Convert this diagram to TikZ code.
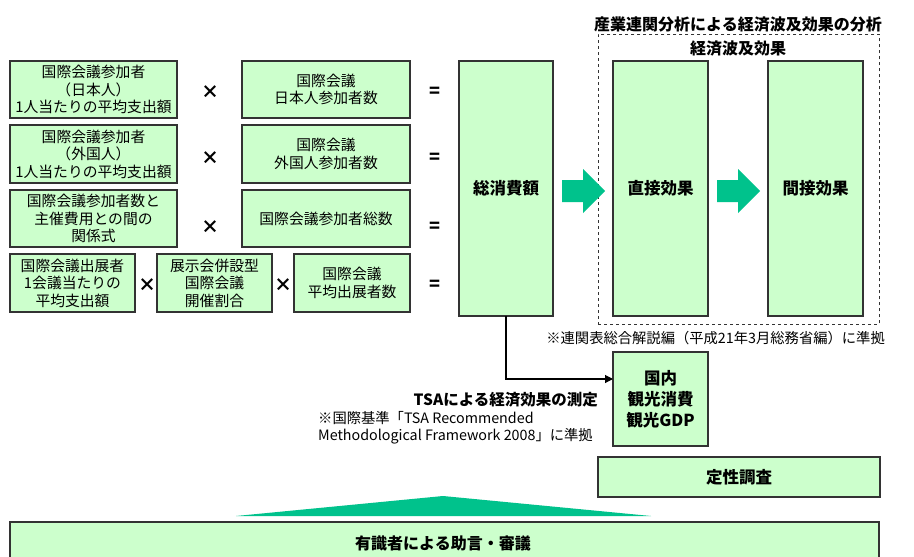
\documentclass[tikz,border=0pt]{standalone}
\usepackage{fontspec}
\setmainfont{Noto Sans CJK JP}
\setsansfont{Noto Sans CJK JP}
\usetikzlibrary{arrows.meta}
\definecolor{boxgreen}{HTML}{CCFFCC}
\definecolor{arrowgreen}{HTML}{00C28C}
\definecolor{edge}{HTML}{333333}
\begin{document}
\begin{tikzpicture}[x=1pt,y=-1pt,
  box/.style={draw=edge, fill=boxgreen, line width=1.1pt, inner sep=0pt, outer sep=0pt,
    align=center, anchor=north west, font=\fontsize{14.8}{17.5}\selectfont},
  bbox/.style={box, font=\fontsize{16.5}{20}\selectfont\bfseries},
  op/.style={font=\fontsize{18}{18}\selectfont\bfseries, inner sep=0pt},
  note/.style={font=\fontsize{14.3}{17.5}\selectfont, inner sep=0pt},
  ttl/.style={font=\fontsize{16}{18}\selectfont\bfseries, inner sep=0pt},
  blockarrow/.style={fill=arrowgreen, draw=none}]
\useasboundingbox (0,0) rectangle (914,557);
\fill[white] (0,0) rectangle (914,557);

% row 1
\node[box, minimum width=167pt, minimum height=57pt] (r1l) at (10,61) {国際会議参加者\\（日本人）\\1人当たりの平均支出額};
\node[box, minimum width=168pt, minimum height=57pt] (r1r) at (242,61) {国際会議\\日本人参加者数};
\node[op] (x1) at (210,92) {×};
\node[op] (e1) at (435,92) {=};
% row 2
\node[box, minimum width=167pt, minimum height=58pt] (r2l) at (10,125) {国際会議参加者\\（外国人）\\1人当たりの平均支出額};
\node[box, minimum width=168pt, minimum height=58pt] (r2r) at (242,125) {国際会議\\外国人参加者数};
\node[op] (x2) at (210,158) {×};
\node[op] (e2) at (435,158) {=};
% row 3
\node[box, minimum width=167pt, minimum height=57pt] (r3l) at (10,190) {国際会議参加者数と\\主催費用との間の\\関係式};
\node[box, minimum width=168pt, minimum height=57pt] (r3r) at (242,190) {国際会議参加者総数};
\node[op] (x3) at (210,227) {×};
\node[op] (e3) at (435,227) {=};
% row 4
\node[box, minimum width=125pt, minimum height=58pt] (r4a) at (10,254) {国際会議出展者\\1会議当たりの\\平均支出額};
\node[box, minimum width=115pt, minimum height=58pt] (r4b) at (157,254) {展示会併設型\\国際会議\\開催割合};
\node[box, minimum width=116pt, minimum height=58pt] (r4c) at (294,254) {国際会議\\平均出展者数};
\node[op] (x4a) at (147,285) {×};
\node[op] (x4b) at (283,285) {×};
\node[op] (e4) at (435,285) {=};

% total
\node[bbox, minimum width=94pt, minimum height=255pt] (total) at (459,61) {総消費額};

% input-output analysis frame
\node[draw=edge, dashed, line width=0.9pt, minimum width=281pt, minimum height=290pt, anchor=north west, inner sep=0pt] (frame) at (598,34) {};
\node[ttl] (t1) at (738,24) {産業連関分析による経済波及効果の分析};
\node[ttl] (t2) at (738,48) {経済波及効果};
\node[bbox, minimum width=95pt, minimum height=255pt] (direct) at (613,61) {直接効果};
\node[bbox, minimum width=95pt, minimum height=255pt] (indirect) at (768,61) {間接効果};
\node[note, anchor=east] (n1) at (885,338) {※連関表総合解説編（平成21年3月総務省編）に準拠};

% block arrows
\fill[blockarrow] (562,180) -- (583,180) -- (583,169) -- (605,191) -- (583,213) -- (583,202) -- (562,202) -- cycle;
\fill[blockarrow] (717,180) -- (738,180) -- (738,169) -- (760,191) -- (738,213) -- (738,202) -- (717,202) -- cycle;

% TSA
\node[bbox, minimum width=95pt, minimum height=94pt, font=\fontsize{16.5}{21}\selectfont\bfseries] (dom) at (613,352) {国内\\観光消費\\観光GDP};
\draw[line width=1.1pt, -{Triangle[length=8pt,width=8pt]}] (total.south) |- ([yshift=20pt]dom.west);
\node[ttl, anchor=east, font=\fontsize{15.5}{18}\selectfont\bfseries] (tsa) at (598,400) {TSAによる経済効果の測定};
\node[note, anchor=north west, align=left] (tsan) at (318,411) {※国際基準「TSA Recommended\\Methodological Framework 2008」に準拠};

% qualitative
\node[bbox, minimum width=282pt, minimum height=40pt] (qual) at (598,457) {定性調査};

% bottom
\fill[arrowgreen] (236,516) -- (443,496) -- (651,516) -- cycle;
\node[bbox, minimum width=869pt, minimum height=50pt, anchor=north west] (adv) at (10,522) {};
\node[ttl] (advt) at (443,543) {有識者による助言・審議};
\end{tikzpicture}
\end{document}
